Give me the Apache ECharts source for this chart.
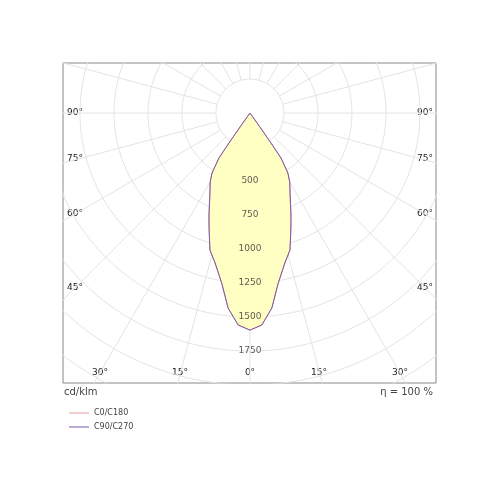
<!DOCTYPE html><html><head><meta charset="utf-8"><script src="https://cdn.jsdelivr.net/npm/echarts@6/dist/echarts.min.js"></script></head><body style="margin:0"><div id="c" style="width:500px;height:500px"></div><script>
const angles=[0,3.2,6.4,9.3,13.1,16.3,19.6,21.9,26.6,30,32.3,34.6,35,35.5,36,90];
const c0c180=[1596,1561,1443,1274,1132,1049,897,808,658,585,522,402,269,126,0,0];
const c90c270=[1596,1561,1443,1274,1132,1049,897,808,658,585,522,402,269,126,0,0];
const ringLabels=[500,750,1000,1250,1500,1750];
const seriesNames=['C0/C180','C90/C270'];
const rad=Math.PI/180;
function curve(vals){
  const pts=[];
  for(let i=angles.length-1;i>=0;i--)pts.push([-vals[i]*Math.sin(angles[i]*rad),vals[i]*Math.cos(angles[i]*rad)]);
  for(let i=1;i<angles.length;i++)pts.push([vals[i]*Math.sin(angles[i]*rad),vals[i]*Math.cos(angles[i]*rad)]);
  return pts;
}
const series=[];
const gs={type:'line',symbol:'none',silent:true,lineStyle:{color:'#e3e3e3',width:1},z:1,animation:false};
for(let k=1;k<=12;k++){const r=250*k,d=[];for(let a=0;a<=360;a+=2)d.push([r*Math.sin(a*rad),r*Math.cos(a*rad)]);series.push(Object.assign({data:d},gs));}
for(let a=0;a<360;a+=15){series.push(Object.assign({data:[[250*Math.sin(a*rad),250*Math.cos(a*rad)],[4000*Math.sin(a*rad),4000*Math.cos(a*rad)]]},gs));}
series.push({name:seriesNames[0],type:'line',symbol:'none',data:curve(c0c180),lineStyle:{color:'#e89a9a',width:1},itemStyle:{color:'#e89a9a'},areaStyle:{color:'#ffffc4',opacity:1,origin:0},z:2,animation:false});
series.push({name:seriesNames[1],type:'line',symbol:'none',data:curve(c90c270),lineStyle:{color:'#7a5aa8',width:1},itemStyle:{color:'#7a5aa8'},z:3,animation:false});
series.push({type:'scatter',symbolSize:0,data:ringLabels.map(v=>[0,v]),z:4,label:{show:true,formatter:p=>p.value[1],color:'#333',fontSize:9,fontFamily:'DejaVu Sans'},animation:false});
const angL=[['90°',67,113],['75°',67,159],['60°',67,214],['45°',67,288],['90°',433,113,'right'],['75°',433,159,'right'],['60°',433,214,'right'],['45°',433,288,'right'],['30°',100,373,'center'],['15°',180,373,'center'],['0°',250,373,'center'],['15°',319,373,'center'],['30°',400,373,'center']];
const graphic=angL.map(a=>({type:'text',x:a[1],y:a[2],style:{text:a[0],fill:'#222',font:'9px DejaVu Sans',align:a[3]||'left',verticalAlign:'middle'}}));
graphic.push({type:'text',x:64,y:392,style:{text:'cd/klm',fill:'#444',font:'10px DejaVu Sans',verticalAlign:'middle'}});
graphic.push({type:'text',x:433,y:392,style:{text:'η = 100 %',fill:'#444',font:'10px DejaVu Sans',align:'right',verticalAlign:'middle'}});
const ch=echarts.init(document.getElementById('c'));
ch.setOption({animation:false,
 grid:{left:63,right:64,top:63,bottom:117,show:true,borderColor:'#888',borderWidth:1},
 xAxis:{type:'value',min:-1375,max:1368,show:false},
 yAxis:{type:'value',min:-368,max:1985,inverse:true,show:false},
 legend:{data:seriesNames,orient:'vertical',left:64,top:404,itemWidth:20,itemHeight:1,itemGap:6,icon:'rect',textStyle:{fontSize:8,color:'#444',fontFamily:'DejaVu Sans'}},
 series:series,graphic:graphic});
</script></body></html>
